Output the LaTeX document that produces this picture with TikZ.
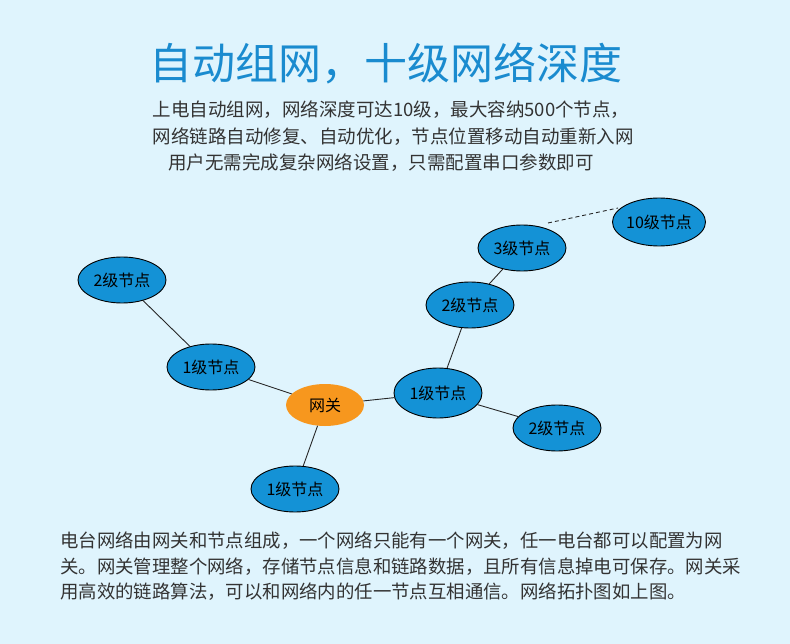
\documentclass[tikz,border=0pt]{standalone}
\usepackage{fontspec}
\setmainfont{Noto Sans CJK SC}
\usetikzlibrary{shapes.geometric}
\definecolor{bgc}{HTML}{DFF4FD}
\definecolor{titlec}{HTML}{1A8BCF}
\definecolor{textc}{HTML}{333333}
\definecolor{nodec}{HTML}{1492D6}
\definecolor{gatec}{HTML}{F7971E}
\tikzset{
  lvl/.style={ellipse, draw=black, line width=0.9pt, fill=nodec, minimum width=88pt, minimum height=46pt, inner sep=0pt, font=\fontsize{16}{18}\selectfont, text=black},
  gate/.style={ellipse, fill=gatec, minimum width=78pt, minimum height=42pt, inner sep=0pt, font=\fontsize{16}{18}\selectfont, text=black},
  link/.style={draw=black!85, line width=0.9pt},
  dlink/.style={draw=black!85, line width=0.9pt, dash pattern=on 4pt off 3pt},
  sub/.style={font=\fontsize{18.5}{22}\selectfont, text=textc, inner sep=0pt},
  body/.style={font=\fontsize{18.4}{22}\selectfont, text=textc, inner sep=0pt, anchor=west}
}
\begin{document}
\begin{tikzpicture}[x=1pt,y=-1pt]
\fill[bgc] (0,0) rectangle (790,644);
\useasboundingbox (0,0) rectangle (790,644);

\node[font=\fontsize{43}{48}\selectfont, text=titlec, inner sep=0pt] (title) at (386,63) {自动组网，十级网络深度};
\node[sub] (s1) at (391,110) {上电自动组网，网络深度可达10级，最大容纳500个节点，};
\node[sub] (s2) at (393,137) {网络链路自动修复、自动优化，节点位置移动自动重新入网};
\node[sub] (s3) at (381,163) {用户无需完成复杂网络设置，只需配置串口参数即可};

\node[lvl] (a2) at (122,280) {2级节点};
\node[lvl] (a1) at (211,367) {1级节点};
\node[gate] (gw) at (325,405) {网关};
\node[lvl] (b1) at (295,489) {1级节点};
\node[lvl, minimum height=50pt] (c1) at (438,393) {1级节点};
\node[lvl] (c2b) at (557,428) {2级节点};
\node[lvl] (c2) at (470,305) {2级节点};
\node[lvl] (c3) at (522,248) {3级节点};
\node[lvl, minimum height=48pt] (c10) at (659,222) {10级节点};

\draw[link] (a2) -- (a1);
\draw[link] (a1) -- (gw);
\draw[link] (gw) -- (b1);
\draw[link] (gw) -- (c1);
\draw[link] (c1) -- (c2b);
\draw[link] (c1) -- (c2);
\draw[link] (c2) -- (c3);
\coordinate (d1) at (548,223);
\coordinate (d2) at (618,208);
\draw[dlink] (d1) -- (d2);

\node[body] (p1) at (60,541) {电台网络由网关和节点组成，一个网络只能有一个网关，任一电台都可以配置为网};
\node[body] (p2) at (60,567) {关。网关管理整个网络，存储节点信息和链路数据，且所有信息掉电可保存。网关采};
\node[body] (p3) at (60,592) {用高效的链路算法，可以和网络内的任一节点互相通信。网络拓扑图如上图。};
\end{tikzpicture}
\end{document}
